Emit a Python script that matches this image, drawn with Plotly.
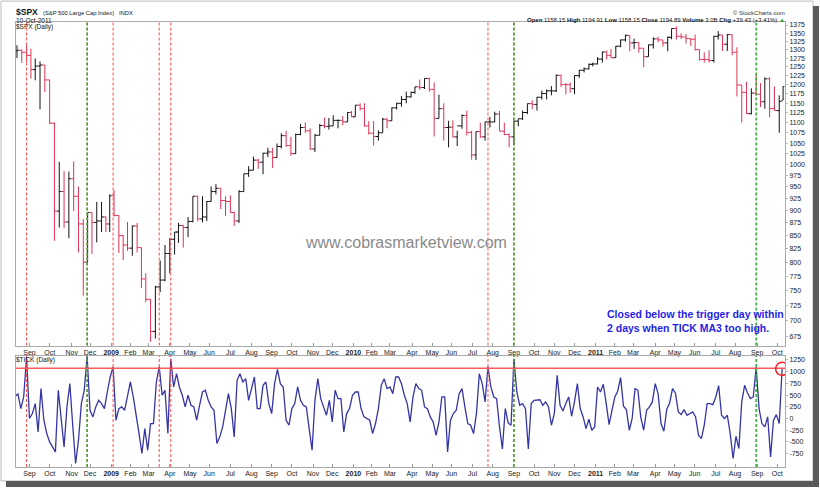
import pandas as pd
import plotly.graph_objects as go

# ---------------- data ----------------
HOLIDAYS = ["2008-09-01", "2008-11-27", "2008-12-25",
            "2009-01-01", "2009-01-19", "2009-02-16", "2009-04-10", "2009-05-25",
            "2009-07-03", "2009-09-07", "2009-11-26", "2009-12-25",
            "2010-01-01", "2010-01-18", "2010-02-15", "2010-04-02", "2010-05-31",
            "2010-07-05", "2010-09-06", "2010-11-25", "2010-12-24",
            "2011-01-17", "2011-02-21", "2011-04-22", "2011-05-30", "2011-07-04",
            "2011-09-05"]

# weekly $SPX bars (mid-week date) + last session 10-Oct-2011
W_DATES = list(pd.date_range("2008-08-13", "2011-10-05", freq="W-WED").strftime("%Y-%m-%d")) + ["2011-10-10"]
W_OPEN = [1296, 1298, 1292, 1283, 1242, 1252, 1255, 1213, 1099, 899, 940, 877, 968, 930, 873, 800, 896, 876, 879, 887,
          873, 931, 890, 850, 832, 826, 869, 827, 770, 735, 683, 756, 768, 816, 843, 857, 870, 866, 878, 930,
          883, 887, 919, 940, 947, 921, 919, 896, 879, 940, 979, 987, 1010, 1005, 1026, 1029, 1016, 1042, 1068, 1044,
          1025, 1071, 1088, 1080, 1036, 1069, 1093, 1091, 1092, 1106, 1106, 1102, 1126, 1115, 1145, 1136, 1092, 1074, 1066, 1075,
          1109, 1105, 1138, 1150, 1160, 1167, 1179, 1194, 1192, 1217, 1187, 1111, 1136, 1088, 1089, 1065, 1092, 1118, 1076, 1022,
          1078, 1065, 1102, 1102, 1122, 1079, 1071, 1065, 1104, 1110, 1126, 1149, 1147, 1166, 1176, 1183, 1183, 1226, 1200, 1200,
          1189, 1225, 1240, 1244, 1257, 1258, 1272, 1293, 1283, 1276, 1310, 1329, 1343, 1320, 1321, 1304, 1279, 1314, 1332, 1329,
          1320, 1337, 1364, 1340, 1338, 1333, 1331, 1300, 1271, 1271, 1268, 1340, 1344, 1316, 1345, 1292, 1199, 1179, 1123, 1177,
          1174, 1154, 1216, 1136, 1131, 1158]
W_HIGH = [1313, 1300, 1313, 1303, 1274, 1265, 1255, 1213, 1100, 1006, 985, 984, 1007, 951, 883, 896, 896, 918, 918, 888,
          934, 943, 890, 851, 877, 870, 875, 827, 780, 735, 758, 803, 832, 845, 857, 875, 871, 887, 930, 931,
          930, 920, 951, 956, 947, 930, 932, 898, 943, 979, 996, 1018, 1013, 1027, 1039, 1039, 1049, 1074, 1080, 1065,
          1073, 1097, 1101, 1086, 1072, 1097, 1113, 1112, 1119, 1108, 1117, 1127, 1130, 1145, 1150, 1150, 1104, 1104, 1081, 1112,
          1112, 1139, 1151, 1169, 1181, 1181, 1194, 1214, 1217, 1220, 1206, 1173, 1150, 1105, 1106, 1080, 1121, 1131, 1080, 1078,
          1100, 1103, 1115, 1128, 1130, 1100, 1073, 1105, 1110, 1131, 1149, 1158, 1167, 1184, 1187, 1196, 1228, 1227, 1204, 1206,
          1225, 1241, 1248, 1259, 1262, 1278, 1294, 1297, 1302, 1311, 1330, 1345, 1343, 1333, 1322, 1304, 1315, 1337, 1339, 1329,
          1339, 1364, 1371, 1349, 1347, 1333, 1345, 1300, 1292, 1298, 1341, 1356, 1344, 1347, 1345, 1307, 1199, 1208, 1190, 1230,
          1204, 1220, 1220, 1195, 1171, 1195]
W_LOW = [1275, 1261, 1263, 1217, 1212, 1134, 1180, 1097, 840, 866, 865, 845, 899, 818, 741, 800, 815, 837, 857, 857,
         857, 888, 817, 804, 821, 812, 818, 754, 730, 667, 672, 747, 766, 780, 814, 836, 827, 847, 876, 878,
         876, 879, 919, 934, 903, 889, 896, 869, 875, 940, 972, 987, 990, 978, 1017, 992, 1016, 1037, 1041, 1020,
         1025, 1069, 1075, 1034, 1029, 1069, 1086, 1083, 1092, 1086, 1094, 1102, 1115, 1115, 1131, 1090, 1071, 1044, 1056, 1075,
         1086, 1105, 1134, 1141, 1150, 1165, 1175, 1186, 1188, 1181, 1066, 1111, 1056, 1040, 1064, 1043, 1085, 1068, 1011, 1010,
         1063, 1056, 1088, 1101, 1079, 1069, 1040, 1047, 1091, 1107, 1122, 1135, 1131, 1160, 1160, 1171, 1180, 1194, 1174, 1178,
         1174, 1219, 1234, 1242, 1251, 1257, 1262, 1271, 1275, 1276, 1307, 1324, 1295, 1302, 1291, 1249, 1279, 1303, 1322, 1309,
         1295, 1331, 1330, 1332, 1318, 1311, 1297, 1268, 1262, 1262, 1262, 1330, 1296, 1296, 1283, 1168, 1101, 1122, 1121, 1170,
         1140, 1136, 1114, 1131, 1075, 1158]
W_CLOSE = [1298, 1292, 1283, 1242, 1252, 1255, 1213, 1099, 899, 940, 877, 968, 930, 873, 800, 896, 876, 879, 887, 873,
           931, 890, 850, 832, 826, 869, 827, 770, 735, 683, 756, 768, 816, 843, 857, 870, 866, 878, 930, 883,
           887, 919, 940, 947, 921, 919, 896, 879, 940, 979, 987, 1010, 1005, 1026, 1029, 1016, 1042, 1068, 1044, 1025,
           1071, 1088, 1080, 1036, 1069, 1093, 1091, 1092, 1106, 1106, 1102, 1126, 1115, 1145, 1136, 1092, 1074, 1066, 1075, 1109,
           1105, 1138, 1150, 1160, 1167, 1179, 1194, 1192, 1217, 1187, 1111, 1136, 1088, 1089, 1065, 1092, 1118, 1076, 1022, 1078,
           1065, 1102, 1102, 1122, 1079, 1071, 1065, 1104, 1110, 1126, 1149, 1147, 1166, 1176, 1183, 1183, 1226, 1200, 1200, 1189,
           1225, 1240, 1244, 1257, 1258, 1272, 1293, 1283, 1276, 1310, 1329, 1343, 1320, 1321, 1304, 1279, 1314, 1332, 1329, 1320,
           1337, 1364, 1340, 1338, 1333, 1331, 1300, 1271, 1271, 1268, 1340, 1344, 1316, 1345, 1292, 1199, 1179, 1123, 1177, 1174,
           1154, 1216, 1136, 1131, 1155, 1195]

# $TICK 3-day moving average, read every third session
TICK_MA3 = [460, 531, 212, 460, 1312, 0, 105, 318, -286, 638, -37, -321, -499, -605, -712, 602, 0, -605, 247, 744,
            -144, -960, -463, 318, 602, 1330, 176, 34, 247, 389, 318, 212, 566, 886, 1100, -37, 212, 247, 176, 460,
            780, 460, 105, -321, -747, -215, -676, -108, -108, 780, 1110, 496, 602, -321, 1276, 673, 957, 673, 496, 247,
            496, 283, 247, -37, 283, 566, 602, 389, 247, 176, -534, -392, -179, 176, 531, 212, -392, 815, 957, 780,
            850, 389, 638, 886, 212, 212, 709, 780, 318, 105, 744, 1050, 744, 673, -37, -144, 212, 318, 673, 389,
            283, 247, -215, -676, 389, 850, 425, 247, 70, 389, -72, 602, 425, 425, -286, 105, 212, 496, 566, 566,
            212, 34, 0, -37, -321, -108, 212, 709, 850, 638, 673, 531, 886, 886, 744, 496, 318, -72, 460, 744,
            638, 602, 247, 212, 34, -72, -357, -72, 460, 460, -712, -37, 105, 176, 531, 638, 247, -108, -144, -321,
            105, 957, 744, 354, 1110, 673, 460, 425, -180, -650, 212, -94, -144, 1276, 566, 283, 318, 212, -650, 318,
            389, 389, 400, 283, 354, 247, -144, 105, 922, 283, 162, 318, 460, 48, 354, 744, 212, 34, -215, -15,
            -250, -179, 673, 566, 730, 318, -130, 176, 460, 588, 872, 261, 190, -250, 0, 638, 602, 20, -250, 176,
            247, 354, 744, 531, -108, -272, 198, 332, 638, 545, 141, 84, 190, 70, 105, 141, 34, -357, -428, -144,
            318, 318, 297, 460, 702, 70, 0, 70, -321, -853, -378, -641, 354, 709, 545, 425, 460, 1100, 212, -108,
            -179, 34, -818, -37, 84, -108, 1060]
TICK_LIMIT = 1075

RED_TRIGGERS = ["2008-08-27", "2008-11-25", "2009-01-06", "2009-03-17", "2009-04-02", "2010-07-26", "2010-09-01"]
GREEN_TRIGGERS = ["2008-11-25", "2010-09-01", "2011-08-31"]

PRICE_TICKS = list(range(675, 1376, 25))
TICK_TICKS = list(range(-750, 1251, 250))

SESSIONS = pd.bdate_range("2008-08-11", "2011-10-10", freq="C", holidays=HOLIDAYS)
TICK_DATES = SESSIONS[::3]
firsts = SESSIONS.to_series().groupby(SESSIONS.to_period("M")).first()
firsts = firsts[firsts >= pd.Timestamp("2008-09-01")]
MONTH_VALS = [d.strftime("%Y-%m-%d") for d in firsts]
MONTH_TEXT = [("<b>%d</b>" % d.year) if d.month == 1 else d.strftime("%b") for d in firsts]

# ---------------- figure ----------------
FONT = "Arial, Liberation Sans, sans-serif"
L, R, T, B, W, H = 16, 785, 22, 469, 820, 490


def px_x(p):
    return (p - L) / (R - L)


def px_y(p):
    return (B - p) / (B - T)


fig = go.Figure()
fig.add_trace(go.Ohlc(x=W_DATES, open=W_OPEN, high=W_HIGH, low=W_LOW, close=W_CLOSE,
                      increasing_line_color="#111111", decreasing_line_color="#dd3355",
                      line_width=1, tickwidth=0.5, xaxis="x", yaxis="y", showlegend=False,
                      hoverinfo="skip"))
fig.add_trace(go.Scatter(x=TICK_DATES, y=TICK_MA3, mode="lines",
                         line=dict(color="#3535a5", width=1.3),
                         xaxis="x2", yaxis="y2", showlegend=False))

breaks = [dict(bounds=["sat", "mon"]), dict(values=HOLIDAYS)]
xcommon = dict(type="date", range=["2008-08-12", "2011-10-13"], rangebreaks=breaks,
               tickmode="array", tickvals=MONTH_VALS, ticktext=MONTH_TEXT,
               tickfont=dict(family=FONT, size=7, color="#222"),
               ticks="inside", ticklen=3, tickcolor="#999",
               showline=True, mirror=True, linecolor="#aaaaaa", linewidth=1,
               showgrid=False, zeroline=False, fixedrange=True)
ycommon = dict(side="right", tickfont=dict(family=FONT, size=7, color="#222"),
               ticks="outside", ticklen=2, tickcolor="#bbb",
               showline=True, mirror=True, linecolor="#aaaaaa", linewidth=1,
               showgrid=False, zeroline=False, fixedrange=True)

dom_top = [px_y(347), 1]
dom_bot = [0, px_y(357)]
fig.update_layout(
    width=W, height=H, autosize=False,
    margin=dict(l=L, r=W - R, t=T, b=H - B, pad=0),
    paper_bgcolor="white", plot_bgcolor="white",
    xaxis=dict(xcommon, anchor="y", domain=[0, 1], rangeslider=dict(visible=False)),
    xaxis2=dict(xcommon, anchor="y2", domain=[0, 1]),
    yaxis=dict(ycommon, anchor="x", domain=dom_top, type="log",
               range=[2.8204, 3.1413], tickmode="array", tickvals=PRICE_TICKS,
               ticktext=[str(v) for v in PRICE_TICKS]),
    yaxis2=dict(ycommon, anchor="x2", domain=dom_bot, range=[-1035, 1345],
                tickmode="array", tickvals=TICK_TICKS, ticktext=[str(v) for v in TICK_TICKS]),
    hovermode=False,
)

shapes = []
for d in RED_TRIGGERS:
    for xr, yr in (("x", "y domain"), ("x2", "y2 domain")):
        shapes.append(dict(type="line", xref=xr, yref=yr, x0=d, x1=d, y0=0, y1=1,
                           line=dict(color="#ff4a4a", width=1, dash="3px,2px")))
for d in GREEN_TRIGGERS:
    for xr, yr in (("x", "y domain"), ("x2", "y2 domain")):
        shapes.append(dict(type="line", xref=xr, yref=yr, x0=d, x1=d, y0=0, y1=1,
                           line=dict(color="#2fae2f", width=1.5, dash="3px,2px")))
shapes.append(dict(type="line", xref="x2 domain", yref="y2", x0=0, x1=1,
                   y0=TICK_LIMIT, y1=TICK_LIMIT, line=dict(color="#ff5a5a", width=1.5)))
shapes.append(dict(type="circle", xref="x2", yref="y2", xsizemode="pixel", ysizemode="pixel",
                   xanchor=W_DATES[-1], yanchor=1060, x0=-6.5, x1=6.5, y0=-6.5, y1=6.5,
                   line=dict(color="#ee2222", width=1.5)))
# outer frame with drop shadow
shapes.append(dict(type="rect", xref="paper", yref="paper",
                   x0=px_x(1), x1=px_x(813), y0=px_y(483), y1=px_y(1),
                   line=dict(color="#bbbbbb", width=1), layer="below"))
shapes.append(dict(type="rect", xref="paper", yref="paper",
                   x0=px_x(813), x1=px_x(819), y0=px_y(489), y1=px_y(6),
                   fillcolor="#5a5a5a", line=dict(width=0)))
shapes.append(dict(type="rect", xref="paper", yref="paper",
                   x0=px_x(6), x1=px_x(819), y0=px_y(489), y1=px_y(483),
                   fillcolor="#5a5a5a", line=dict(width=0)))
fig.update_layout(shapes=shapes)


def note(text, x, y, size=7, color="#111", xanchor="left", **kw):
    fig.add_annotation(text=text, x=px_x(x), y=px_y(y), xref="paper", yref="paper",
                       xanchor=xanchor, yanchor="middle", showarrow=False,
                       font=dict(family=FONT, size=size, color=color), **kw)


note("<b>$SPX</b>", 14, 12, size=8.5)
note("(S&P 500 Large Cap Index)", 41, 13, size=5.8)
note("INDX", 117, 13, size=5.8)
note("10-Oct-2011", 14, 20, size=6.5)
note("$SPX (Daily)", 14, 27, size=6.5)
note("© StockCharts.com", 787, 13, size=6, color="#333", xanchor="right")
note("<b>Open</b> 1158.15 <b>High</b> 1194.91 <b>Low</b> 1158.15 <b>Close</b> 1194.89 "
     "<b>Volume</b> 3.0B <b>Chg</b> +39.43 (+3.41%) <span style='color:#2a9a2a'>▲</span>",
     787, 20, size=6, xanchor="right")
note("$TICK (Daily)", 14, 362, size=6.5)
note("www.cobrasmarketview.com", 406, 243, size=16, color="#8a8a8a", xanchor="center")
note("<b>Closed below the trigger day within<br>2 days when TICK MA3 too high.</b>",
     605, 322, size=10.5, color="#1f1fe6", align="left")

fig.write_html("out.html", config={"displayModeBar": False, "staticPlot": True},
               post_script="document.body.style.margin='0';document.body.style.padding='0';")
